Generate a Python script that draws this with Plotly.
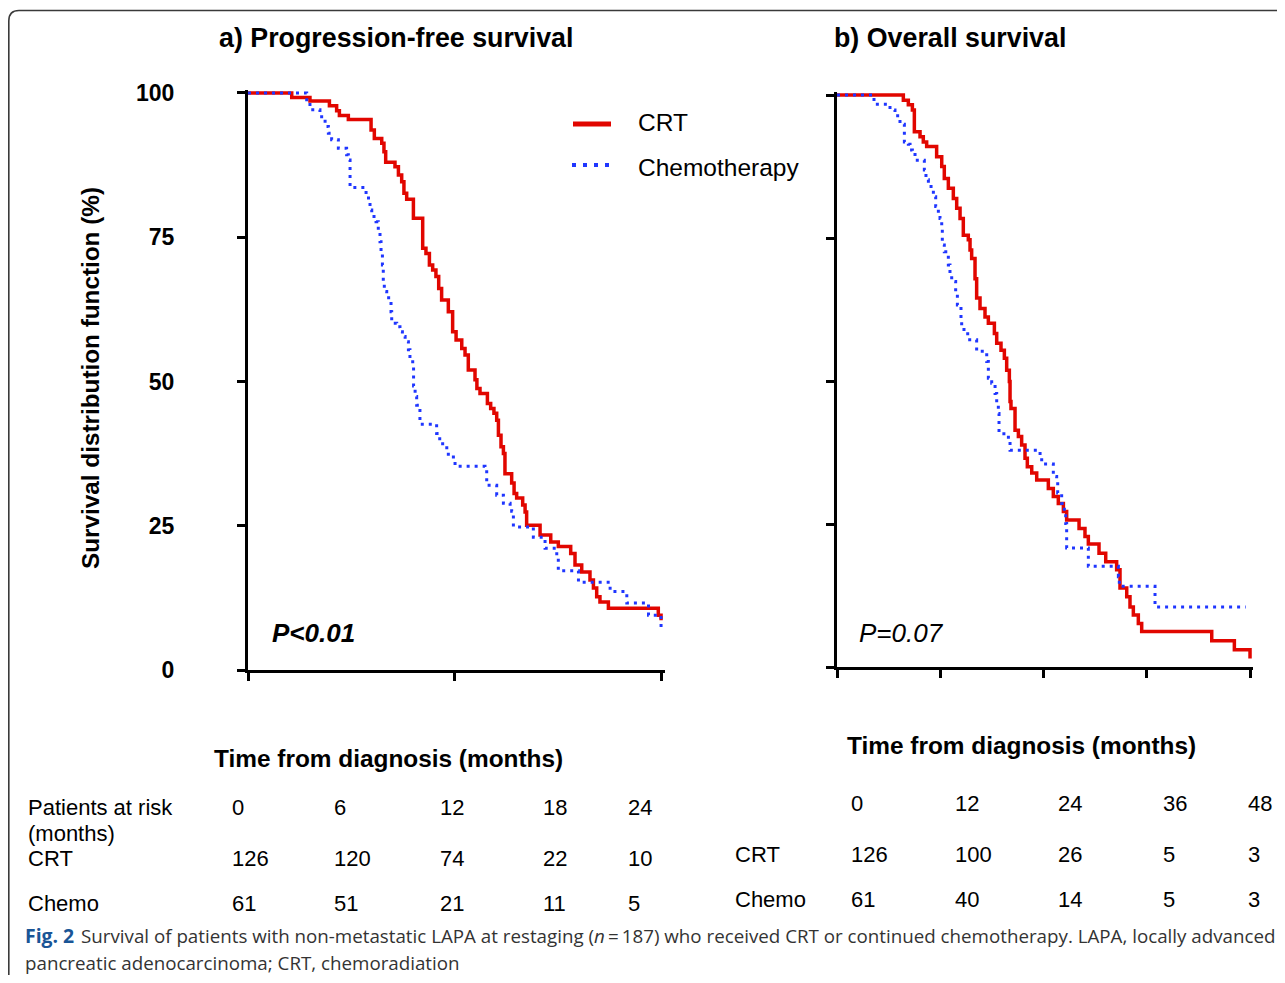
import plotly.graph_objects as go

# ---------------- data ----------------
pfs_crt = [(0, 100), (2.54, 99.2), (3.6, 98.6), (4.73, 97.8), (5.15, 96.9), (5.31, 96.1), (5.83, 95.4),
           (7.15, 93.6), (7.34, 92.1), (7.77, 91.3), (7.9, 89.8), (8.0, 88.0), (8.54, 87.2), (8.74, 85.8),
           (8.93, 84.6), (9.06, 82.6), (9.22, 81.6), (9.61, 78.3), (10.15, 73.1), (10.34, 72.2),
           (10.54, 70.2), (10.73, 69.3), (10.92, 68.2), (11.08, 66.1), (11.25, 64.1), (11.64, 62.1),
           (11.89, 58.6), (12.09, 57.2), (12.42, 55.7), (12.61, 54.6), (12.8, 52.0), (13.19, 50.3),
           (13.3, 48.8), (13.48, 47.9), (13.91, 46.2), (14.1, 45.3), (14.29, 44.5), (14.45, 43.3),
           (14.55, 40.7), (14.7, 38.7), (14.84, 37.5), (14.93, 34.0), (15.32, 32.4), (15.46, 30.6),
           (15.61, 29.8), (15.96, 28.6), (16.1, 27.4), (16.19, 25.1), (16.97, 23.4), (17.59, 22.2),
           (18.03, 21.4), (18.75, 20.2), (19.0, 18.2), (19.39, 17.0), (19.87, 15.6), (20.07, 14.2),
           (20.26, 12.7), (20.45, 11.8), (20.94, 10.7), (23.84, 9.5), (24.0, 8.6)]

pfs_chemo = [(0, 100), (3.41, 98.5), (3.6, 97.1), (4.18, 96.5), (4.28, 95.6), (4.48, 94.2), (4.67, 93.0),
             (4.86, 91.9), (5.25, 90.4), (5.73, 89.3), (5.83, 88.4), (5.93, 83.6), (6.86, 82.3), (7.0, 81.2),
             (7.09, 79.7), (7.19, 78.6), (7.44, 77.7), (7.57, 76.0), (7.67, 74.2), (7.73, 72.5), (7.81, 70.2),
             (7.86, 67.3), (7.92, 65.6), (8.06, 64.5), (8.31, 62.1), (8.35, 60.1), (8.64, 59.5), (8.83, 58.6),
             (8.97, 57.8), (9.13, 56.9), (9.32, 55.5), (9.41, 54.0), (9.57, 52.9), (9.62, 49.2), (9.71, 47.4),
             (9.8, 45.9), (9.99, 42.6), (10.96, 41.0), (11.14, 39.2), (11.55, 38.1), (11.64, 36.9),
             (12.03, 35.3), (13.77, 34.7), (13.87, 32.0), (14.45, 30.3), (14.84, 28.9), (15.23, 28.2),
             (15.32, 27.5), (15.42, 24.8), (16.58, 23.0), (17.26, 21.1), (17.94, 19.6), (18.03, 17.2),
             (19.2, 15.2), (21.04, 13.6), (22.01, 11.6), (23.27, 9.5), (24.0, 7.0)]

os_crt = [(0, 100), (7.71, 99.1), (8.29, 98.3), (8.76, 97.4), (8.99, 93.6), (9.65, 92.7), (10.03, 91.8),
          (10.42, 91.0), (11.58, 89.2), (12.17, 87.5), (12.47, 85.4), (12.94, 83.7), (13.52, 81.9),
          (13.91, 80.2), (14.3, 78.4), (14.68, 75.5), (15.26, 74.7), (15.46, 72.9), (15.65, 71.4),
          (16.04, 67.9), (16.23, 64.5), (16.62, 62.7), (17.2, 61.2), (17.59, 60.1), (18.29, 58.3),
          (18.56, 56.6), (19.06, 55.4), (19.45, 54.0), (19.72, 51.9), (20.03, 49.9), (20.11, 46.4),
          (20.22, 45.2), (20.69, 41.4), (21.08, 40.3), (21.46, 38.8), (21.85, 36.5), (22.12, 35.0),
          (22.63, 33.9), (23.21, 32.7), (24.56, 31.2), (25.14, 29.8), (25.72, 28.6), (26.31, 27.2),
          (26.69, 25.7), (28.13, 24.2), (28.82, 22.8), (29.21, 21.5), (30.45, 19.9), (31.23, 18.4),
          (32.5, 17.0), (32.89, 13.8), (33.67, 12.3), (34.05, 10.5), (34.44, 9.1), (35.02, 7.6),
          (35.41, 6.2), (43.55, 4.6), (46.18, 3.0), (48.0, 1.5)]

os_chemo = [(0, 100), (4.3, 98.4), (6.16, 97.4), (6.74, 96.8), (7.05, 95.9), (7.32, 94.9), (7.83, 91.8),
            (8.29, 91.4), (8.49, 90.4), (8.76, 89.6), (9.07, 88.6), (10.15, 86.9), (10.34, 85.2),
            (10.62, 84.3), (10.93, 83.4), (11.2, 82.2), (11.47, 80.5), (11.78, 79.3), (11.97, 78.4),
            (12.17, 76.7), (12.24, 73.8), (12.47, 72.6), (12.94, 70.3), (13.13, 68.8), (13.33, 67.4),
            (13.79, 65.1), (13.99, 63.3), (14.41, 61.0), (14.49, 59.0), (15.19, 57.2), (16.23, 55.2),
            (17.4, 53.4), (17.59, 50.5), (17.98, 49.6), (18.37, 47.8), (18.56, 46.1), (18.75, 44.3),
            (18.83, 40.8), (19.92, 39.7), (20.11, 37.9), (23.6, 36.8), (23.79, 35.5), (25.14, 33.3),
            (25.53, 32.7), (25.65, 30.4), (26.11, 28.6), (26.42, 26.9), (26.58, 25.1), (26.69, 20.8),
            (29.21, 17.6), (32.7, 15.8), (32.81, 14.1), (36.96, 10.5), (47.5, 10.5)]

series_names = ["CRT", "Chemotherapy"]
y_tick_vals = [0, 25, 50, 75, 100]
y_tick_text = ["0", "25", "50", "75", "100"]
pfs_x_ticks = [0, 12, 24]
os_x_ticks = [0, 12, 24, 36, 48]

panel_titles = ["a) Progression-free survival", "b) Overall survival"]
y_title = "Survival distribution function (%)"
x_title = "Time from diagnosis (months)"
p_values = ["<b><i>P&lt;0.01</i></b>", "<i>P=0.07</i>"]

risk_row_labels_left = ["Patients at risk", "(months)", "CRT", "Chemo"]
risk_months_pfs = ["0", "6", "12", "18", "24"]
risk_crt_pfs = ["126", "120", "74", "22", "10"]
risk_chemo_pfs = ["61", "51", "21", "11", "5"]
risk_row_labels_right = ["CRT", "Chemo"]
risk_months_os = ["0", "12", "24", "36", "48"]
risk_crt_os = ["126", "100", "26", "5", "3"]
risk_chemo_os = ["61", "40", "14", "5", "3"]

caption_bold = "Fig. 2"
caption_line1 = ("Survival of patients with non-metastatic LAPA at restaging (<i>n</i>\u2009=\u2009187) who received "
                 "CRT or continued chemotherapy. LAPA, locally advanced")
caption_line2 = "pancreatic adenocarcinoma; CRT, chemoradiation"

# ---------------- styling / layout geometry ----------------
W, H, OFF = 1269, 967, 8
RED = "#e10600"
BLUE = "#1f36ff"
BLUE_DASH = "3px,5px"
ARIAL = "Liberation Sans, Arial, Helvetica, sans-serif"


def fx(X):
    return (X - OFF) / W


def fy(Y):
    return 1 - (Y - OFF) / H


def unzip(pairs):
    return [p[0] for p in pairs], [p[1] for p in pairs]


fig = go.Figure()

traces = [
    (pfs_crt, "x", "y", RED, "solid", 3.5, series_names[0]),
    (pfs_chemo, "x", "y", BLUE, BLUE_DASH, 3, series_names[1]),
    (os_crt, "x2", "y2", RED, "solid", 3.5, series_names[0]),
    (os_chemo, "x2", "y2", BLUE, BLUE_DASH, 3, series_names[1]),
]
for pairs, xa, ya, col, dash, w, name in traces:
    t, s = unzip(pairs)
    fig.add_trace(go.Scatter(x=t, y=s, xaxis=xa, yaxis=ya, mode="lines", name=name,
                             showlegend=False,
                             line=dict(color=col, width=w, dash=dash, shape="hv")))

axis_common = dict(showline=True, linecolor="black", linewidth=3, ticks="outside", ticklen=8,
                   tickwidth=3, tickcolor="black", showgrid=False, zeroline=False, automargin=False)

fig.update_layout(
    width=W, height=H, margin=dict(l=0, r=0, t=0, b=0, pad=0, autoexpand=False),
    paper_bgcolor="white", plot_bgcolor="white", showlegend=False,
    font=dict(family=ARIAL, color="black"),
    xaxis=dict(domain=[fx(248), fx(664.5)], range=[0, 24.2], tickvals=pfs_x_ticks,
               showticklabels=False, anchor="y", **axis_common),
    yaxis=dict(domain=[fy(670), fy(89.5)], range=[0, 100.6], tickvals=y_tick_vals,
               ticktext=y_tick_text, anchor="x", ticklabelstandoff=58,
               tickfont=dict(family=ARIAL, size=23, color="black", weight="bold"), **axis_common),
    xaxis2=dict(domain=[fx(837), fx(1252.6)], range=[0, 48.3], tickvals=os_x_ticks,
                showticklabels=False, anchor="y2", **axis_common),
    yaxis2=dict(domain=[fy(667), fy(91.6)], range=[0, 100.6], tickvals=y_tick_vals,
                showticklabels=False, anchor="x2", **axis_common),
)

ann = []


def text(X, Y, s, size, xanchor="left", bold=False, family=ARIAL, color="black", angle=0):
    ann.append(dict(x=fx(X), y=fy(Y), xref="paper", yref="paper", text=(f"<b>{s}</b>" if bold else s),
                    showarrow=False, xanchor=xanchor, yanchor="middle", textangle=angle, borderpad=0,
                    font=dict(family=family, size=size, color=color)))


# panel titles
text(396, 38, panel_titles[0], 26.8, "center", True)
text(950, 38, panel_titles[1], 26.8, "center", True)
# axis titles
text(90, 378, y_title, 24.3, "center", True, angle=-90)
text(388, 758, x_title, 24.4, "center", True)
text(1021, 745, x_title, 24.4, "center", True)
# p values
text(271, 633, p_values[0], 26)
text(858, 633, p_values[1], 26)

# legend (drawn inside panel a)
text(637, 122, series_names[0], 24.5)
text(637, 167, series_names[1], 24.5)
fig.add_shape(type="line", xref="paper", yref="paper", x0=fx(573), x1=fx(611), y0=fy(124), y1=fy(124),
              line=dict(color=RED, width=5))
fig.add_shape(type="line", xref="paper", yref="paper", x0=fx(572), x1=fx(611), y0=fy(165), y1=fy(165),
              line=dict(color=BLUE, width=4, dash="4px,7px"))

# risk table (left)
for lab, Y in zip(risk_row_labels_left, [807, 833, 858, 903]):
    text(27, Y, lab, 22)
cols_left = [231, 333, 439, 542, 627]
for row, Y in [(risk_months_pfs, 807), (risk_crt_pfs, 858), (risk_chemo_pfs, 903)]:
    for v, X in zip(row, cols_left):
        text(X, Y, v, 22)
# risk table (right)
for lab, Y in zip(risk_row_labels_right, [854, 899]):
    text(734, Y, lab, 22)
cols_right = [850, 954, 1057, 1162, 1247]
for row, Y in [(risk_months_os, 803), (risk_crt_os, 854), (risk_chemo_os, 899)]:
    for v, X in zip(row, cols_right):
        text(X, Y, v, 22)

# caption
CAP_FONT = "Open Sans, Noto Sans, sans-serif"
text(24, 935.5, caption_bold, 19.4, bold=True, family=CAP_FONT, color="#1a5596")
text(80, 935.5, caption_line1, 18.75, family=CAP_FONT, color="#333333")
text(24, 962.3, caption_line2, 18.75, family=CAP_FONT, color="#333333")

fig.update_layout(annotations=ann)

# rounded frame around the figure (kept inside the drawing area)
frame = (f"M 1,{fy(10.5)} L {fx(19)},{fy(10.5)} Q {fx(8.8)},{fy(10.5)} {fx(8.8)},{fy(21)} "
         f"L {fx(8.8)},0")
fig.add_shape(type="path", path=frame, xref="paper", yref="paper",
              line=dict(color="#3a3a3a", width=1.6), layer="below")

fig.write_html("out.html")
